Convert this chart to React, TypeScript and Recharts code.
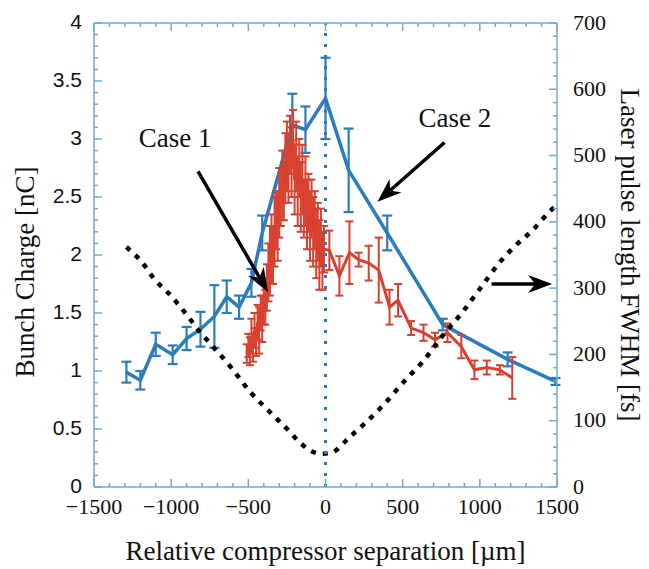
import { ComposedChart, Line, XAxis, YAxis, ErrorBar, ReferenceLine, ReferenceDot, Label } from "recharts";

// Case 2 (blue): bunch charge vs separation
const case2X = [-1290, -1200, -1100, -990, -900, -810, -720, -640, -560, -480, -410, -215, -130, 0, 150, 400, 760, 1180, 1490];
const case2Y = [0.99, 0.92, 1.23, 1.14, 1.28, 1.36, 1.47, 1.64, 1.55, 1.76, 2.19, 3.12, 3.08, 3.35, 2.73, 2.19, 1.4, 1.1, 0.91];
const case2Err = [0.09, 0.08, 0.1, 0.08, 0.1, 0.15, 0.27, 0.14, 0.1, 0.12, 0.15, 0.27, 0.2, 0.35, 0.36, 0.15, 0.05, 0.06, 0.03];

// Case 1 (red)
const case1X = [
  -510, -500, -490, -480, -470, -460, -450, -440, -430, -420, -410, -400, -390, -380, -370, -360, -350, -340, -330, -320,
  -310, -300, -290, -280, -270, -260, -250, -240, -230, -220, -210, -200, -190, -180, -170, -160, -150, -140, -130, -120,
  -110, -100, -90, -80, -70, -60, -50, -40, -30, -20, -10, 25, 90, 155, 215, 280, 345, 415, 470, 555, 635, 710, 790, 880,
  965, 1045, 1130, 1210,
];
const case1Y = [
  1.15, 1.22, 1.17, 1.3, 1.2, 1.35, 1.25, 1.42, 1.35, 1.5, 1.45, 1.6, 1.55, 1.72, 1.85, 1.95, 2.05, 2.0, 2.2, 2.3,
  2.25, 2.45, 2.5, 2.6, 2.55, 2.75, 2.85, 2.7, 2.95, 2.8, 3.0, 2.65, 2.85, 2.55, 2.75, 2.5, 2.65, 2.4, 2.55, 2.35,
  2.45, 2.25, 2.4, 2.2, 2.3, 2.1, 2.2, 2.0, 2.15, 1.95, 2.05, 2.04, 1.82, 2.02, 1.96, 1.93, 1.87, 1.55, 1.61, 1.37,
  1.33, 1.27, 1.33, 1.21, 1.01, 1.03, 1.01, 0.94,
];
const case1Err = [
  0.08, 0.1, 0.12, 0.15, 0.12, 0.15, 0.12, 0.15, 0.2, 0.15, 0.2, 0.2, 0.15, 0.2, 0.25, 0.3, 0.3, 0.25, 0.3, 0.25,
  0.3, 0.3, 0.25, 0.3, 0.25, 0.3, 0.3, 0.25, 0.25, 0.3, 0.25, 0.3, 0.3, 0.3, 0.25, 0.3, 0.3, 0.25, 0.3, 0.3,
  0.25, 0.3, 0.25, 0.3, 0.25, 0.3, 0.25, 0.3, 0.25, 0.25, 0.2, 0.17, 0.17, 0.27, 0.06, 0.15, 0.28, 0.15, 0.14, 0.06,
  0.07, 0.06, 0.08, 0.1, 0.08, 0.06, 0.04, 0.18,
];

// Laser pulse length (dashed, right axis)
const pulseX = [-1290, -1200, -1100, -1020, -900, -810, -730, -600, -490, -360, -230, -170, -90, -25, 40, 155, 265, 380, 520, 630, 755, 885, 1010, 1125, 1235, 1340, 1450, 1500];
const pulseFs = [362, 342, 311, 293, 260, 233, 212, 177, 144, 113, 83, 68, 54, 50, 52, 75, 98, 125, 162, 189, 227, 263, 302, 338, 365, 387, 415, 426];

const xMajor = [-1500, -1000, -500, 0, 500, 1000, 1500];
const qMajor = [0, 0.5, 1, 1.5, 2, 2.5, 3, 3.5, 4];
const fsMajor = [0, 100, 200, 300, 400, 500, 600, 700];

const xTicks = Array.from({ length: 31 }, (_, i) => -1500 + i * 100);
const qTicks = Array.from({ length: 41 }, (_, i) => i / 10);
const fsTicks = Array.from({ length: 36 }, (_, i) => i * 20);

const case2 = case2X.map((x, i) => ({ x, y: case2Y[i], err: case2Err[i] }));
const case1 = case1X.map((x, i) => ({ x, y: case1Y[i], err: case1Err[i] }));
const pulse = pulseX.map((x, i) => ({ x, fs: pulseFs[i] }));

const BLUE = "#2b7bbf";
const RED = "#d8412f";
const AXIS = "#6fa7d9";
const serif = "'Liberation Serif', 'Times New Roman', serif";
const sans = "'Liberation Sans', Arial, sans-serif";

const isMajor = (v: number, list: number[]) => list.some((m) => Math.abs(m - v) < 1e-6);
const fmt = (v: number) => (v < 0 ? "\u2212" + Math.abs(v) : String(v));

const BottomTick = ({ x, y, payload }: any) => {
  const major = isMajor(payload.value, xMajor);
  return (
    <g>
      <line x1={x} x2={x} y1={y} y2={y - (major ? 8 : 4)} stroke={AXIS} strokeWidth={1.5} />
      {major && (
        <text x={x} y={y + 27} textAnchor="middle" fontFamily={serif} fontSize={22} fill="#111">
          {fmt(payload.value)}
        </text>
      )}
    </g>
  );
};

const TopTick = ({ x, y, payload }: any) => {
  const major = isMajor(payload.value, xMajor);
  return <line x1={x} x2={x} y1={y} y2={y + (major ? 8 : 4)} stroke={AXIS} strokeWidth={1.5} />;
};

const LeftTick = ({ x, y, payload }: any) => {
  const major = isMajor(payload.value, qMajor);
  return (
    <g>
      <line x1={x} x2={x + (major ? 8 : 4)} y1={y} y2={y} stroke={AXIS} strokeWidth={1.5} />
      {major && (
        <text x={x - 12} y={y} dy="0.3em" textAnchor="end" fontFamily={sans} fontSize={21} fill="#111">
          {payload.value}
        </text>
      )}
    </g>
  );
};

const RightTick = ({ x, y, payload }: any) => {
  const major = isMajor(payload.value, fsMajor);
  return (
    <g>
      <line x1={x} x2={x - (major ? 8 : 4)} y1={y} y2={y} stroke={AXIS} strokeWidth={1.5} />
      {major && (
        <text x={x + 16} y={y} dy="0.3em" textAnchor="start" fontFamily={serif} fontSize={22} fill="#111">
          {payload.value}
        </text>
      )}
    </g>
  );
};

const Arrow = ({ x1, y1, x2, y2 }: any) => {
  const a = Math.atan2(y2 - y1, x2 - x1);
  const L = 24;
  const W = 9;
  const bx = x2 - L * Math.cos(a);
  const by = y2 - L * Math.sin(a);
  const nx = -Math.sin(a);
  const ny = Math.cos(a);
  const mx = x2 - L * 0.7 * Math.cos(a);
  const my = y2 - L * 0.7 * Math.sin(a);
  const pts = `${x2},${y2} ${bx + nx * W},${by + ny * W} ${mx},${my} ${bx - nx * W},${by - ny * W}`;
  return (
    <g>
      <line x1={x1} y1={y1} x2={mx} y2={my} stroke="#000" strokeWidth={3.5} />
      <polygon points={pts} fill="#000" />
    </g>
  );
};

const CaseText = (text: string) => (p: any) => (
  <text x={p.cx} y={p.cy} dominantBaseline="central" textAnchor="middle" fontFamily={serif} fontSize={27} fill="#111">
    {text}
  </text>
);

const axisCommon = {
  allowDataOverflow: true,
  tickSize: 0,
  tickMargin: 0,
  tickLine: false,
  interval: 0 as const,
  axisLine: { stroke: AXIS, strokeWidth: 1.5 },
};

export default function App() {
  return (
    <div style={{ position: "absolute", left: 0, top: 0, background: "#fff" }}>
      <ComposedChart width={649} height={569} margin={{ top: 22, right: 91, bottom: 81, left: 93 }}>
        <XAxis xAxisId="b" dataKey="x" type="number" domain={[-1500, 1500]} ticks={xTicks} height={1} {...axisCommon} tick={<BottomTick />}>
          <Label
            content={({ viewBox }: any) => (
              <text x={viewBox.x + viewBox.width / 2} y={viewBox.y + 73} textAnchor="middle" fontFamily={serif} fontSize={27} fill="#111">
                Relative compressor separation [µm]
              </text>
            )}
          />
        </XAxis>
        <XAxis xAxisId="t" orientation="top" dataKey="x" type="number" domain={[-1500, 1500]} ticks={xTicks} height={1} {...axisCommon} tick={<TopTick />} />
        <YAxis yAxisId="q" type="number" domain={[0, 4]} ticks={qTicks} width={1} {...axisCommon} tick={<LeftTick />}>
          <Label
            content={({ viewBox }: any) => {
              const cx = viewBox.x - 68;
              const cy = viewBox.y + viewBox.height / 2 + 17;
              return (
                <text x={cx} y={cy} transform={`rotate(-90 ${cx} ${cy})`} dominantBaseline="central" textAnchor="middle" fontFamily={serif} fontSize={27} fill="#111">
                  Bunch Charge [nC]
                </text>
              );
            }}
          />
        </YAxis>
        <YAxis yAxisId="fs" orientation="right" type="number" domain={[0, 700]} ticks={fsTicks} width={1} {...axisCommon} tick={<RightTick />}>
          <Label
            content={({ viewBox }: any) => {
              const cx = viewBox.x + 73;
              const cy = viewBox.y + viewBox.height / 2;
              return (
                <text x={cx} y={cy} transform={`rotate(90 ${cx} ${cy})`} dominantBaseline="central" textAnchor="middle" fontFamily={serif} fontSize={27} fill="#111">
                  Laser pulse length FWHM [fs]
                </text>
              );
            }}
          />
        </YAxis>

        <Line data={case2} xAxisId="b" yAxisId="q" dataKey="y" type="linear" stroke={BLUE} strokeWidth={3.5} dot={false} isAnimationActive={false}>
          <ErrorBar dataKey="err" width={5} stroke={BLUE} strokeWidth={2.2} direction="y" isAnimationActive={false} />
        </Line>
        <Line data={case1} xAxisId="b" yAxisId="q" dataKey="y" type="linear" stroke={RED} strokeWidth={3} dot={false} isAnimationActive={false}>
          <ErrorBar dataKey="err" width={4} stroke={RED} strokeWidth={2} direction="y" isAnimationActive={false} />
        </Line>
        <Line
          data={pulse}
          xAxisId="b"
          yAxisId="fs"
          dataKey="fs"
          type="monotone"
          stroke="#000"
          strokeWidth={4.5}
          strokeDasharray="5 7"
          dot={false}
          isAnimationActive={false}
        />

        <ReferenceLine xAxisId="b" yAxisId="q" x={0} stroke={BLUE} strokeWidth={3} strokeDasharray="3 8" />

        <ReferenceLine xAxisId="b" yAxisId="q" segment={[{ x: -826, y: 2.72 }, { x: -373, y: 1.68 }]} shape={<Arrow />} />
        <ReferenceLine xAxisId="b" yAxisId="q" segment={[{ x: 771, y: 2.97 }, { x: 337, y: 2.46 }]} shape={<Arrow />} />
        <ReferenceLine xAxisId="b" yAxisId="q" segment={[{ x: 1076, y: 1.75 }, { x: 1468, y: 1.75 }]} shape={<Arrow />} />

        <ReferenceDot xAxisId="b" yAxisId="q" x={-975} y={3.01} r={0} shape={CaseText("Case 1")} />
        <ReferenceDot xAxisId="b" yAxisId="q" x={839} y={3.18} r={0} shape={CaseText("Case 2")} />
      </ComposedChart>
    </div>
  );
}
